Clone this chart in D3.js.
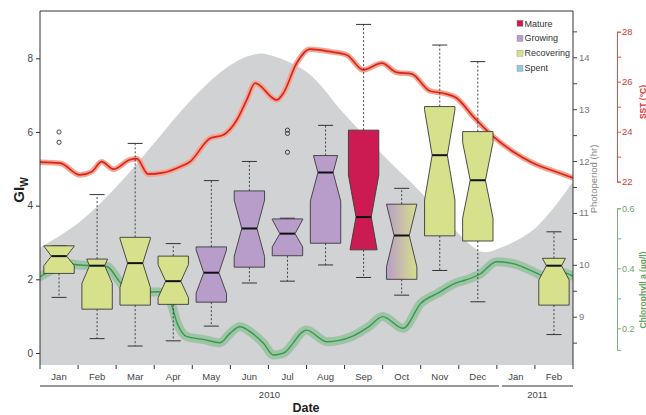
<!DOCTYPE html>
<html>
<head>
<meta charset="utf-8">
<script src="https://cdn.jsdelivr.net/npm/d3@7"></script>
<style>
body{margin:0;background:#fff;}
svg{display:block;font-family:"Liberation Sans",Arial,sans-serif;}
</style>
</head>
<body>
<script>
// month axis
var months=['Jan','Feb','Mar','Apr','May','Jun','Jul','Aug','Sep','Oct','Nov','Dec','Jan','Feb'];
var yearLabels=['2010','2011'];
var yearStart=[0,12];
var yearEnd=[12,14];

// GIw boxes (month index, five numbers + notch limits)
var boxMonth=[0,1,2,3,4,5,6,7,8,9,10,11,13];
var boxStage=['Recovering','Recovering','Recovering','Recovering','Growing','Growing','Growing','Growing','Mature','Mixed','Recovering','Recovering','Recovering'];
var whiskerLow=[1.51,0.39,0.19,0.33,0.73,1.90,1.95,2.39,2.05,1.57,2.24,1.39,0.50];
var q1=[2.16,1.19,1.30,1.32,1.38,2.33,2.64,2.98,2.80,2.00,3.18,3.04,1.30];
var median=[2.63,2.37,2.44,1.95,2.18,3.38,3.24,4.90,3.69,3.19,5.37,4.69,2.37];
var q3=[2.91,2.55,3.14,2.63,2.88,4.40,3.64,5.36,6.05,4.04,6.69,6.01,2.57];
var whiskerHigh=[2.91,4.30,5.69,2.97,4.68,5.20,3.66,6.18,8.92,4.47,8.36,7.91,3.29];
var notchLow=[2.37,1.89,1.78,1.50,1.62,2.62,2.88,4.12,2.55,2.34,4.15,3.66,1.98];
var notchHigh=[2.90,2.85,3.10,2.40,2.80,4.15,3.62,5.68,4.83,4.04,6.60,5.72,2.76];
var outlierMonth=[0,0,6,6,6];
var outlierValue=[6.00,5.72,6.05,5.96,5.45];

// photoperiod (hr)
var photoMonth=[0,1,2,3,4,5,5.65,6,7,8,9,10,11,11.6,12,13,14];
var photoValue=[10.33,10.8,11.5,12.35,13.2,13.85,14.06,14.05,13.72,12.9,12.12,11.4,10.6,10.25,10.3,10.7,11.6];

// SST (C)
var sstMonth=[0,0.53,1.05,1.36,1.62,1.93,2.36,2.54,2.84,3.24,3.68,3.94,4.47,4.81,5.17,5.43,5.65,6.22,6.39,6.74,7.09,7.62,8.06,8.49,8.98,9.37,9.76,10.24,10.59,10.95,11.38,11.91,12.43,12.96,13.66,14.0];
var sstValue=[22.78,22.74,22.27,22.40,22.80,22.50,22.88,22.92,22.30,22.36,22.60,22.80,23.74,23.87,24.47,25.27,25.94,25.27,25.54,26.74,27.30,27.20,27.07,26.47,26.74,26.37,26.31,25.63,25.54,25.34,24.60,23.80,23.20,22.74,22.34,22.15];

// chlorophyll a (ug/l)
var chlMonth=[0,0.26,0.58,1.05,1.75,2.10,2.52,2.89,3.10,3.41,3.60,3.86,4.28,4.73,4.99,5.25,5.57,5.87,6.13,6.39,7.00,7.54,8.18,8.63,9.00,9.54,10.00,10.45,10.90,11.18,11.56,11.99,12.48,12.96,13.27,13.66,14.0];
var chlValue=[0.372,0.391,0.417,0.411,0.406,0.354,0.294,0.321,0.322,0.294,0.218,0.172,0.163,0.152,0.183,0.205,0.184,0.150,0.111,0.117,0.194,0.155,0.172,0.205,0.239,0.200,0.283,0.317,0.350,0.361,0.381,0.422,0.414,0.389,0.374,0.388,0.374];

var legendLabels=['Mature','Growing','Recovering','Spent'];
var stageColor={Mature:'#cc1b52',Growing:'#b89cc9',Recovering:'#d7e08b',Spent:'#8ecbe6',Mixed:'url(#mixGrad)'};

var W=646,H=415;
var L=40,R=573,T=11,B=365;

var svg=d3.select('body').append('svg').attr('width',W).attr('height',H);

var defs=svg.append('defs');
defs.append('clipPath').attr('id','plotClip')
.append('rect').attr('x',L).attr('y',T).attr('width',R-L).attr('height',B-T);
var grad=defs.append('linearGradient').attr('id','mixGrad').attr('x1','0%').attr('x2','100%');
grad.append('stop').attr('offset','0%').attr('stop-color','#b89cc9');
grad.append('stop').attr('offset','100%').attr('stop-color','#d7e08b');

var x=d3.scaleLinear().domain([0,14]).range([L,R]);
var y=d3.scaleLinear().domain([0,8]).range([353,58.3]);
var yP=d3.scaleLinear().domain([9,14]).range([316.7,57.3]);
var ySST=d3.scaleLinear().domain([22,28]).range([181.7,31.7]);
var yChl=d3.scaleLinear().domain([0.2,0.6]).range([328.3,208.3]);

var plot=svg.append('g').attr('clip-path','url(#plotClip)');

// photoperiod area
var photo=photoMonth.map((m,i)=>[m,photoValue[i]]);
plot.append('path')
.attr('d',d3.area().x(d=>x(d[0])).y0(B).y1(d=>yP(d[1])).curve(d3.curveCatmullRom)(photo))
.style('fill','#d1d2d4');

// SST line with band
var sst=sstMonth.map((m,i)=>[m,sstValue[i]]);
var sstLine=d3.line().x(d=>x(d[0])).y(d=>ySST(d[1])).curve(d3.curveMonotoneX);
plot.append('path').attr('d',sstLine(sst))
.style('fill','none').style('stroke','#f2a593').style('stroke-width',5.5).style('stroke-linejoin','round');
plot.append('path').attr('d',sstLine(sst))
.style('fill','none').style('stroke','#d8261c').style('stroke-width',1.7);

// chlorophyll line with band
var chl=chlMonth.map((m,i)=>[m,chlValue[i]]);
var chlLine=d3.line().x(d=>x(d[0])).y(d=>yChl(d[1])).curve(d3.curveMonotoneX);
plot.append('path').attr('d',chlLine(chl))
.style('fill','none').style('stroke','rgba(70,170,85,0.36)').style('stroke-width',9).style('stroke-linejoin','round').style('stroke-linecap','round');
plot.append('path').attr('d',chlLine(chl))
.style('fill','none').style('stroke','#2f9e47').style('stroke-width',1.4);

// boxes
var hw=15.2,inner=hw*0.5,capW=7.5;
var boxes=svg.append('g');
boxMonth.forEach(function(m,i){
    var cx=x(m+0.5);
    var med=median[i],nl=notchLow[i],nh=notchHigh[i];
    function wAt(v){
        if(v>=med&&v<nh) return inner+(hw-inner)*(v-med)/(nh-med);
        if(v<med&&v>nl) return inner+(hw-inner)*(med-v)/(med-nl);
        return hw;
    }
    var lv=[q1[i]];
    if(nl>q1[i]) lv.push(nl);
    lv.push(med);
    if(nh<q3[i]) lv.push(nh);
    lv.push(q3[i]);
    var pts=lv.map(v=>[cx-wAt(v),y(v)]).concat(lv.slice().reverse().map(v=>[cx+wAt(v),y(v)]));

    var g=boxes.append('g');
    g.append('line').attr('x1',cx).attr('x2',cx).attr('y1',y(q3[i])).attr('y2',y(whiskerHigh[i]))
    .style('stroke','#333').style('stroke-dasharray','2,2').style('stroke-width',0.9);
    g.append('line').attr('x1',cx).attr('x2',cx).attr('y1',y(q1[i])).attr('y2',y(whiskerLow[i]))
    .style('stroke','#333').style('stroke-dasharray','2,2').style('stroke-width',0.9);
    [whiskerHigh[i],whiskerLow[i]].forEach(function(v){
        g.append('line').attr('x1',cx-capW).attr('x2',cx+capW).attr('y1',y(v)).attr('y2',y(v))
        .style('stroke','#333').style('stroke-width',1);
    });
    g.append('path').attr('d','M'+pts.map(p=>p.join(',')).join('L')+'Z')
    .style('fill',stageColor[boxStage[i]]).style('stroke','#3a3a3a').style('stroke-width',0.9);
    g.append('line').attr('x1',cx-inner).attr('x2',cx+inner).attr('y1',y(med)).attr('y2',y(med))
    .style('stroke','#111').style('stroke-width',2);
});
boxes.selectAll('circle').data(outlierValue).enter().append('circle')
.attr('cx',(d,i)=>x(outlierMonth[i]+0.5)).attr('cy',d=>y(d)).attr('r',2.1)
.style('fill','none').style('stroke','#333').style('stroke-width',0.9);

// frame
var frame=svg.append('g').style('stroke','#333').style('stroke-width',1);
frame.append('line').attr('x1',L).attr('x2',R).attr('y1',T).attr('y2',T);
frame.append('line').attr('x1',L).attr('x2',L).attr('y1',T).attr('y2',B+4);
frame.append('line').attr('x1',R).attr('x2',R).attr('y1',T).attr('y2',B+4);

// left axis
var axL=svg.append('g').attr('transform','translate('+L+',0)')
.call(d3.axisLeft(y).tickValues([0,2,4,6,8]).tickSize(4).tickPadding(3));
axL.select('.domain').remove();
axL.selectAll('line').style('stroke','#333');
axL.selectAll('text').style('font-size','10px').style('fill','#444').style('font-family','Liberation Sans, Arial');

// photoperiod axis
var axP=svg.append('g').attr('transform','translate('+R+',0)')
.call(d3.axisRight(yP).tickValues(d3.range(8.5,14.6,0.5)).tickSize(4).tickPadding(2)
.tickFormat(d=>Number.isInteger(d)?d:''));
axP.select('.domain').remove();
axP.selectAll('line').style('stroke','#444');
axP.selectAll('text').style('font-size','9.5px').style('fill','#777').style('font-family','Liberation Sans, Arial');

// SST axis
var axS=svg.append('g').attr('transform','translate(617,0)')
.call(d3.axisRight(ySST).tickValues(d3.range(22,29)).tickSize(4).tickSizeOuter(4).tickPadding(1)
.tickFormat(d=>d%2===0?d:''));
axS.selectAll('.domain,line').style('stroke','#d9534f');
axS.selectAll('text').style('font-size','9.5px').style('fill','#cf3b36').style('font-family','Liberation Sans, Arial');

// chlorophyll axis
var yChlAx=yChl.copy().domain([0.128,0.6]).range([yChl(0.128),yChl(0.6)]);
var axC=svg.append('g').attr('transform','translate(617,0)')
.call(d3.axisRight(yChlAx).tickValues([0.2,0.3,0.4,0.5,0.6]).tickSize(4).tickSizeOuter(4).tickPadding(1)
.tickFormat(d=>[0.2,0.4,0.6].indexOf(d)>=0?d3.format('.1f')(d):''));
axC.selectAll('.domain,line').style('stroke','#7fb07f');
axC.selectAll('text').style('font-size','9px').style('fill','#6a9f6a').style('font-family','Liberation Sans, Arial');

// axis titles
var gt=svg.append('text').attr('transform','translate(24,190) rotate(-90)')
.attr('text-anchor','middle').style('font-weight','bold').style('font-size','15px').style('fill','#222');
gt.append('tspan').text('GI');
gt.append('tspan').attr('dy',4).style('font-size','10px').text('W');

svg.append('text').attr('transform','translate(597,179) rotate(-90)')
.attr('text-anchor','middle').style('font-size','9.5px').style('fill','#888').text('Photoperiod (hr)');
svg.append('text').attr('transform','translate(645.5,102) rotate(-90)')
.attr('text-anchor','middle').style('font-size','8.5px').style('font-weight','bold').style('fill','#d23a35').text('SST (°C)');
svg.append('text').attr('transform','translate(645.5,290) rotate(-90)')
.attr('text-anchor','middle').style('font-size','8.5px').style('font-weight','bold').style('fill','#5f9f5f').text('Chlorophyll a (µg/l)');

// month axis
var narrow='"Liberation Sans Narrow","Liberation Sans",Arial';
var xa=svg.append('g');
xa.selectAll('line.tick').data(d3.range(1,14)).enter().append('line')
.attr('x1',d=>x(d)).attr('x2',d=>x(d)).attr('y1',B).attr('y2',B+4)
.style('stroke','#333');
xa.selectAll('text.month').data(months).enter().append('text')
.attr('x',(d,i)=>x(i+0.5)).attr('y',380).attr('text-anchor','middle')
.style('font-family',narrow).style('font-size','9.5px').style('fill','#444').text(d=>d);
yearLabels.forEach(function(lab,i){
    var x0=x(yearStart[i])+(yearStart[i]>0?5:0),x1=x(yearEnd[i])+(yearEnd[i]<14?2:0);
    xa.append('line').attr('x1',x0).attr('x2',x1).attr('y1',386).attr('y2',386)
    .style('stroke','#333').style('stroke-width',1.2);
    xa.append('text').attr('x',(x0+x1)/2).attr('y',398).attr('text-anchor','middle')
    .style('font-family',narrow).style('font-size','9.5px').style('fill','#444').text(lab);
});
svg.append('text').attr('x',306).attr('y',412).attr('text-anchor','middle')
.style('font-weight','bold').style('font-size','12.5px').style('fill','#222').text('Date');

// legend
var lg=svg.append('g').attr('transform','translate(517,23.3)');
lg.selectAll('rect').data(legendLabels).enter().append('rect')
.attr('x',0).attr('y',(d,i)=>i*15-3).attr('width',6).attr('height',6)
.style('fill',d=>stageColor[d]).style('stroke','#888').style('stroke-width',0.4);
lg.selectAll('text').data(legendLabels).enter().append('text')
.attr('x',7.5).attr('y',(d,i)=>i*15+3.2)
.style('font-size','9px').style('fill','#333').text(d=>d);
</script>
</body>
</html>
